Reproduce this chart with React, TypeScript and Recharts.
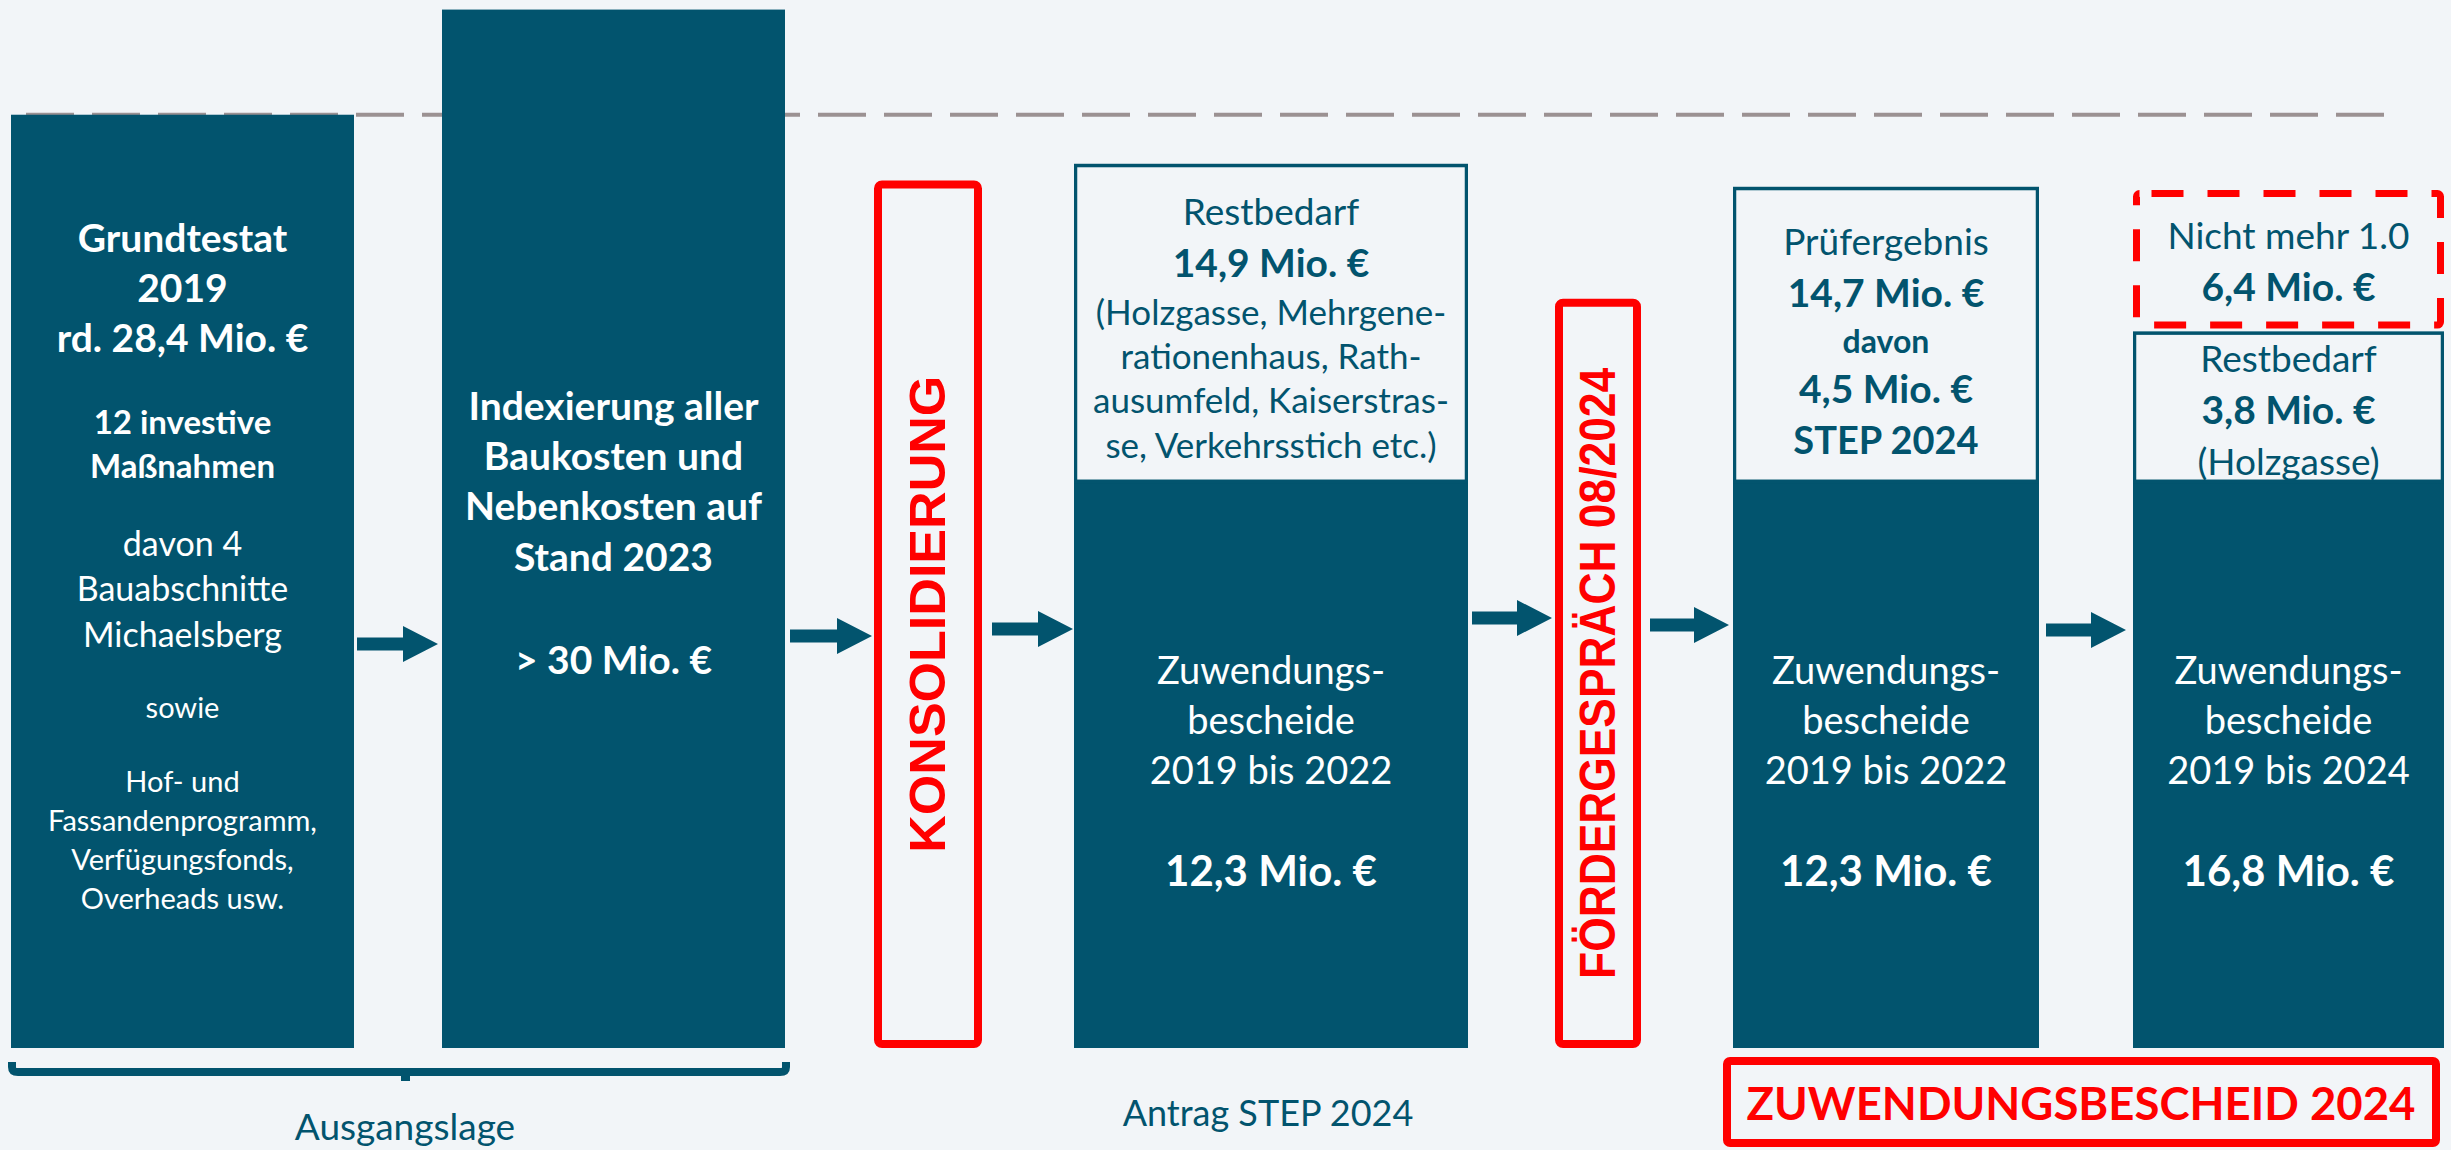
import React from 'react'
import { BarChart, Bar, XAxis, YAxis, ReferenceLine } from 'recharts'

// Funding overview slide — stages of the STEP application, drawn as stacked columns.
// Heights follow the slide (schematic, Mio. € scale set by the 28,4 Mio. Grundtestat line).

const TEAL = '#02546E'
const BG = '#F2F5F8'
const RED = '#FF0000'
const DASH_GRAY = '#9B9192'
const FONT = 'Lato, "Open Sans", sans-serif'
const RED_FONT = '"Liberation Sans", Arial, sans-serif'

const W = 2451
const H = 1150
const MARGIN = { top: 3, right: 0, bottom: 102, left: 0 }

// ---- data -------------------------------------------------------------
const STAGES = [
  'Ausgangslage',
  'Indexierung 2023',
  'Konsolidierung',
  'Antrag STEP 2024',
  'Fördergespräch 08/2024',
  'Prüfergebnis',
  'Zuwendungsbescheid 2024',
]
const BASE = [28.4, 31.6, 0, 17.2, 0, 17.2, 17.2] // dark column (as drawn)
const REST = [0, 0, 0, 9.7, 0, 9.0, 4.6] // white "Restbedarf" box
const SPACER = [0, 0, 0, 0, 0, 0, 0.2]
const DROPPED = [0, 0, 0, 0, 0, 0, 4.0] // "Nicht mehr 1.0"
const MILESTONE = [0, 0, 26.4, 0, 22.8, 0, 0] // red framed steps
const GRUNDTESTAT = 28.4
const Y_MAX = 31.8

// ---- texts ------------------------------------------------------------
const TXT_GRUNDTESTAT = ['Grundtestat', '2019', 'rd. 28,4 Mio. €']
const TXT_MASSNAHMEN = ['12 investive', 'Maßnahmen']
const TXT_DAVON = ['davon 4', 'Bauabschnitte', 'Michaelsberg']
const TXT_SOWIE = ['sowie']
const TXT_PROGRAMME = ['Hof- und', 'Fassandenprogramm,', 'Verfügungsfonds,', 'Overheads usw.']
const TXT_INDEX = ['Indexierung aller', 'Baukosten und', 'Nebenkosten auf', 'Stand 2023']
const TXT_INDEX_SUM = ['> 30 Mio. €']
const TXT_REST_A = ['Restbedarf']
const TXT_REST_A_SUM = ['14,9 Mio. €']
const TXT_REST_A_LIST = ['(Holzgasse, Mehrgene-', 'rationenhaus, Rath-', 'ausumfeld, Kaiserstras-', 'se, Verkehrsstich etc.)']
const TXT_BESCHEIDE_22 = ['Zuwendungs-', 'bescheide', '2019 bis 2022']
const TXT_BESCHEIDE_24 = ['Zuwendungs-', 'bescheide', '2019 bis 2024']
const SUM_2022 = ['12,3 Mio. €']
const SUM_2024 = ['16,8 Mio. €']
const TXT_PRUEF = ['Prüfergebnis']
const TXT_PRUEF_SUMS = ['14,7 Mio. €', 'davon', '4,5 Mio. €', 'STEP 2024']
const TXT_NICHT = ['Nicht mehr 1.0']
const TXT_NICHT_SUM = ['6,4 Mio. €']
const TXT_REST_B = ['Restbedarf', '3,8 Mio. €', '(Holzgasse)']
const MILESTONE_TXT = ['KONSOLIDIERUNG', 'FÖRDERGESPRÄCH 08/2024']
const FOOT_LABELS = ['Ausgangslage', 'Antrag STEP 2024']
const RESULT = 'ZUWENDUNGSBESCHEID 2024'

// ---- layout -----------------------------------------------------------
type Line = { t: string; dy: number; size: number; bold?: boolean }

const block = (texts: string[], start: number, step: number, size: number, bold = false): Line[] =>
  texts.map((t, i) => ({ t, dy: start + i * step, size, bold }))

const bescheide = (texts: string[], sum: string[]) => [
  ...block(texts, 188, 50, 38),
  ...block(sum, 388, 0, 42, true),
]

type ColumnLayout = {
  left: number
  width: number
  base?: Line[]
  rest?: Line[]
  dropped?: Line[]
  milestone?: { text: string; length: number }
}

const COLUMNS: ColumnLayout[] = [
  {
    left: 11, width: 343,
    base: [
      ...block(TXT_GRUNDTESTAT, 123, 50, 39, true),
      ...block(TXT_MASSNAHMEN, 307, 44, 33, true),
      ...block(TXT_DAVON, 429, 45.5, 34),
      ...block(TXT_SOWIE, 593, 0, 29),
      ...block(TXT_PROGRAMME, 667, 39, 29),
    ],
  },
  {
    left: 442, width: 343,
    base: [...block(TXT_INDEX, 396, 50.3, 39, true), ...block(TXT_INDEX_SUM, 650, 0, 39, true)],
  },
  { left: 874, width: 108, milestone: { text: MILESTONE_TXT[0], length: 477 } },
  {
    left: 1074, width: 394,
    base: bescheide(TXT_BESCHEIDE_22, SUM_2022),
    rest: [
      ...block(TXT_REST_A, 48, 0, 37),
      ...block(TXT_REST_A_SUM, 99, 0, 39, true),
      ...block(TXT_REST_A_LIST, 148, 44.3, 35),
    ],
  },
  { left: 1555, width: 86, milestone: { text: MILESTONE_TXT[1], length: 611 } },
  {
    left: 1733, width: 306,
    base: bescheide(TXT_BESCHEIDE_22, SUM_2022),
    rest: [
      ...block(TXT_PRUEF, 55, 0, 37),
      { t: TXT_PRUEF_SUMS[0], dy: 106, size: 39, bold: true },
      { t: TXT_PRUEF_SUMS[1], dy: 154, size: 32, bold: true },
      { t: TXT_PRUEF_SUMS[2], dy: 202, size: 39, bold: true },
      { t: TXT_PRUEF_SUMS[3], dy: 253, size: 38, bold: true },
    ],
  },
  {
    left: 2133, width: 311,
    base: bescheide(TXT_BESCHEIDE_24, SUM_2024),
    rest: [
      { t: TXT_REST_B[0], dy: 27, size: 37 },
      { t: TXT_REST_B[1], dy: 78, size: 39, bold: true },
      { t: TXT_REST_B[2], dy: 130, size: 37 },
    ],
    dropped: [...block(TXT_NICHT, 42, 0, 37), ...block(TXT_NICHT_SUM, 93, 0, 39, true)],
  },
]

// arrows: [from x, to x, centre y]
const ARROWS = [
  [357, 438, 644],
  [790, 872, 636],
  [992, 1073, 629],
  [1472, 1552, 618],
  [1650, 1729, 625],
  [2046, 2126, 630],
]

// ---- shapes -----------------------------------------------------------
function Lines({ x, y, width, lines, color }: { x: number; y: number; width: number; lines?: Line[]; color: string }) {
  if (!lines) return null
  const cx = x + width / 2
  return (
    <>
      {lines.map((l, i) => (
        <text
          key={i}
          x={cx}
          y={y + l.dy + l.size * 0.36}
          textAnchor="middle"
          fontFamily={FONT}
          fontSize={l.size}
          fontWeight={l.bold ? 700 : 400}
          fill={color}
        >
          {l.t}
        </text>
      ))}
    </>
  )
}

function StageColumn({ index }: { index: number }) {
  const lay = COLUMNS[index]
  const row = [{
    stage: STAGES[index],
    base: BASE[index],
    rest: REST[index],
    spacer: SPACER[index],
    dropped: DROPPED[index],
    milestone: MILESTONE[index],
  }]

  const baseShape = (p: any) => {
    if (!p.height || p.height <= 0) return <g />
    return (
      <g>
        <rect x={p.x} y={p.y} width={p.width} height={p.height} fill={TEAL} />
        <Lines x={p.x} y={p.y} width={p.width} lines={lay.base} color="#FFFFFF" />
      </g>
    )
  }
  const restShape = (p: any) => {
    if (!p.height || p.height <= 0) return <g />
    return (
      <g>
        <rect x={p.x + 1.5} y={p.y + 1.5} width={p.width - 3} height={p.height - 3} fill={BG} stroke={TEAL} strokeWidth={3.5} />
        <Lines x={p.x} y={p.y} width={p.width} lines={lay.rest} color={TEAL} />
      </g>
    )
  }
  const droppedShape = (p: any) => {
    if (!p.height || p.height <= 0) return <g />
    return (
      <g>
        <rect x={p.x + 3.5} y={p.y} width={p.width - 7} height={p.height} rx={3} fill="none" stroke={RED} strokeWidth={7} strokeDasharray="32 24" strokeDashoffset={-12} />
        <Lines x={p.x} y={p.y} width={p.width} lines={lay.dropped} color={TEAL} />
      </g>
    )
  }
  const milestoneShape = (p: any) => {
    if (!p.height || p.height <= 0 || !lay.milestone) return <g />
    const cx = p.x + p.width / 2
    const cy = p.y + p.height / 2
    return (
      <g>
        <rect x={p.x + 4} y={p.y + 4} width={p.width - 8} height={p.height - 8} rx={4} fill="none" stroke={RED} strokeWidth={8} />
        <text
          x={cx}
          y={cy}
          transform={`rotate(-90 ${cx} ${cy})`}
          textAnchor="middle"
          dominantBaseline="central"
          fontFamily={RED_FONT}
          fontWeight={700}
          fontSize={50}
          fill={RED}
          textLength={lay.milestone.length}
          lengthAdjust="spacingAndGlyphs"
        >
          {lay.milestone.text}
        </text>
      </g>
    )
  }

  return (
    <div style={{ position: 'absolute', left: lay.left, top: 0 }}>
      <BarChart width={lay.width} height={H} data={row} margin={MARGIN} barCategoryGap={0}>
        <XAxis dataKey="stage" hide />
        <YAxis hide domain={[0, Y_MAX]} allowDataOverflow />
        <Bar dataKey="base" stackId="s" isAnimationActive={false} shape={baseShape} />
        <Bar dataKey="rest" stackId="s" isAnimationActive={false} shape={restShape} />
        <Bar dataKey="spacer" stackId="s" isAnimationActive={false} shape={() => <g />} />
        <Bar dataKey="dropped" stackId="s" isAnimationActive={false} shape={droppedShape} />
        <Bar dataKey="milestone" stackId="s" isAnimationActive={false} shape={milestoneShape} />
      </BarChart>
    </div>
  )
}

function Annotations() {
  return (
    <svg width={W} height={H} style={{ position: 'absolute', left: 0, top: 0, pointerEvents: 'none' }}>
      {ARROWS.map(([x0, x1, y], i) => (
        <path
          key={i}
          d={`M ${x0} ${y - 6.5} H ${x1 - 35} V ${y - 18} L ${x1} ${y} L ${x1 - 35} ${y + 18} V ${y + 6.5} H ${x0} Z`}
          fill={TEAL}
        />
      ))}
      {/* bracket under the first two columns */}
      <path d="M 12 1062 V 1067 Q 12 1072 18 1072 H 780 Q 786 1072 786 1067 V 1062" fill="none" stroke={TEAL} strokeWidth={8} />
      <rect x={401} y={1072} width={9} height={9} fill={TEAL} />
      <text x={405} y={1140} textAnchor="middle" fontFamily={FONT} fontSize={37} fill={TEAL}>
        {FOOT_LABELS[0]}
      </text>
      <text x={1268} y={1126} textAnchor="middle" fontFamily={FONT} fontSize={36} fill={TEAL}>
        {FOOT_LABELS[1]}
      </text>
      {/* result box */}
      <rect x={1727} y={1061} width={709} height={82} rx={3} fill="none" stroke={RED} strokeWidth={8} />
      <text
        x={2081}
        y={1120}
        textAnchor="middle"
        fontFamily={FONT}
        fontWeight={700}
        fontSize={45}
        fill={RED}
        textLength={669}
        lengthAdjust="spacingAndGlyphs"
      >
        {RESULT}
      </text>
    </svg>
  )
}

export default function App() {
  return (
    <div style={{ position: 'absolute', left: 0, top: 0, width: W, height: H, background: BG, overflow: 'hidden' }}>
      {/* dashed Grundtestat line behind the columns */}
      <div style={{ position: 'absolute', left: 0, top: 0 }}>
        <BarChart width={W} height={H} data={[{ stage: 'Grundtestat', v: 0 }]} margin={{ ...MARGIN, left: 26, right: 67 }}>
          <XAxis dataKey="stage" hide />
          <YAxis hide domain={[0, Y_MAX]} allowDataOverflow />
          <ReferenceLine y={GRUNDTESTAT} stroke={DASH_GRAY} strokeWidth={4} strokeDasharray="48 18" />
        </BarChart>
      </div>
      {COLUMNS.map((_, i) => (
        <StageColumn key={i} index={i} />
      ))}
      <Annotations />
    </div>
  )
}
